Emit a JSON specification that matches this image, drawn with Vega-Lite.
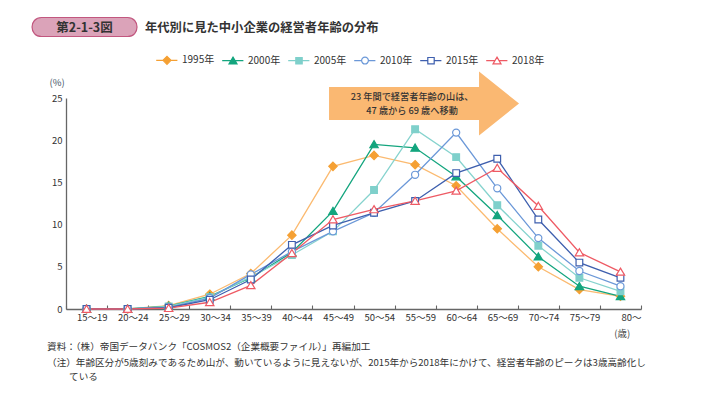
{
  "$schema": "https://vega.github.io/schema/vega-lite/v6.json",
  "width": 575,
  "height": 211,
  "autosize": {"type": "none"},
  "padding": {"left": 66, "top": 98, "right": 60, "bottom": 91},
  "background": "white",
  "config": {
    "view": {"stroke": null},
    "font": "Noto Sans CJK JP",
    "axis": {"grid": false, "labelFont": "Noto Sans CJK JP", "titleFont": "Noto Sans CJK JP"},
    "legend": {"labelFont": "Noto Sans CJK JP"},
    "text": {"font": "Noto Sans CJK JP"}
  },
  "data": {
    "values": [
      {"age": "15～19", "year": "1995年", "value": 0},
      {"age": "20～24", "year": "1995年", "value": 0},
      {"age": "25～29", "year": "1995年", "value": 0.4},
      {"age": "30～34", "year": "1995年", "value": 1.75},
      {"age": "35～39", "year": "1995年", "value": 4.2},
      {"age": "40～44", "year": "1995年", "value": 8.75},
      {"age": "45～49", "year": "1995年", "value": 16.9},
      {"age": "50～54", "year": "1995年", "value": 18.2},
      {"age": "55～59", "year": "1995年", "value": 17.1},
      {"age": "60～64", "year": "1995年", "value": 14.6},
      {"age": "65～69", "year": "1995年", "value": 9.5},
      {"age": "70～74", "year": "1995年", "value": 5.0},
      {"age": "75～79", "year": "1995年", "value": 2.3},
      {"age": "80～", "year": "1995年", "value": 1.5},
      {"age": "15～19", "year": "2000年", "value": 0},
      {"age": "20～24", "year": "2000年", "value": 0},
      {"age": "25～29", "year": "2000年", "value": 0.35},
      {"age": "30～34", "year": "2000年", "value": 1.5},
      {"age": "35～39", "year": "2000年", "value": 3.7},
      {"age": "40～44", "year": "2000年", "value": 6.7},
      {"age": "45～49", "year": "2000年", "value": 11.6},
      {"age": "50～54", "year": "2000年", "value": 19.5},
      {"age": "55～59", "year": "2000年", "value": 19.1},
      {"age": "60～64", "year": "2000年", "value": 15.7},
      {"age": "65～69", "year": "2000年", "value": 11.1},
      {"age": "70～74", "year": "2000年", "value": 6.2},
      {"age": "75～79", "year": "2000年", "value": 2.7},
      {"age": "80～", "year": "2000年", "value": 1.5},
      {"age": "15～19", "year": "2005年", "value": 0},
      {"age": "20～24", "year": "2005年", "value": 0},
      {"age": "25～29", "year": "2005年", "value": 0.3},
      {"age": "30～34", "year": "2005年", "value": 1.4},
      {"age": "35～39", "year": "2005年", "value": 3.8},
      {"age": "40～44", "year": "2005年", "value": 6.4},
      {"age": "45～49", "year": "2005年", "value": 9.2},
      {"age": "50～54", "year": "2005年", "value": 14.1},
      {"age": "55～59", "year": "2005年", "value": 21.3},
      {"age": "60～64", "year": "2005年", "value": 18.0},
      {"age": "65～69", "year": "2005年", "value": 12.3},
      {"age": "70～74", "year": "2005年", "value": 7.5},
      {"age": "75～79", "year": "2005年", "value": 3.7},
      {"age": "80～", "year": "2005年", "value": 2.1},
      {"age": "15～19", "year": "2010年", "value": 0},
      {"age": "20～24", "year": "2010年", "value": 0},
      {"age": "25～29", "year": "2010年", "value": 0.2},
      {"age": "30～34", "year": "2010年", "value": 1.3},
      {"age": "35～39", "year": "2010年", "value": 4.1},
      {"age": "40～44", "year": "2010年", "value": 6.8},
      {"age": "45～49", "year": "2010年", "value": 9.2},
      {"age": "50～54", "year": "2010年", "value": 11.4},
      {"age": "55～59", "year": "2010年", "value": 15.9},
      {"age": "60～64", "year": "2010年", "value": 20.9},
      {"age": "65～69", "year": "2010年", "value": 14.3},
      {"age": "70～74", "year": "2010年", "value": 8.4},
      {"age": "75～79", "year": "2010年", "value": 4.5},
      {"age": "80～", "year": "2010年", "value": 2.7},
      {"age": "15～19", "year": "2015年", "value": 0},
      {"age": "20～24", "year": "2015年", "value": 0},
      {"age": "25～29", "year": "2015年", "value": 0.15},
      {"age": "30～34", "year": "2015年", "value": 1.1},
      {"age": "35～39", "year": "2015年", "value": 3.5},
      {"age": "40～44", "year": "2015年", "value": 7.6},
      {"age": "45～49", "year": "2015年", "value": 9.9},
      {"age": "50～54", "year": "2015年", "value": 11.4},
      {"age": "55～59", "year": "2015年", "value": 12.8},
      {"age": "60～64", "year": "2015年", "value": 16.1},
      {"age": "65～69", "year": "2015年", "value": 17.8},
      {"age": "70～74", "year": "2015年", "value": 10.6},
      {"age": "75～79", "year": "2015年", "value": 5.5},
      {"age": "80～", "year": "2015年", "value": 3.7},
      {"age": "15～19", "year": "2018年", "value": 0},
      {"age": "20～24", "year": "2018年", "value": 0},
      {"age": "25～29", "year": "2018年", "value": 0.1},
      {"age": "30～34", "year": "2018年", "value": 0.8},
      {"age": "35～39", "year": "2018年", "value": 2.8},
      {"age": "40～44", "year": "2018年", "value": 6.6},
      {"age": "45～49", "year": "2018年", "value": 10.6},
      {"age": "50～54", "year": "2018年", "value": 11.8},
      {"age": "55～59", "year": "2018年", "value": 12.8},
      {"age": "60～64", "year": "2018年", "value": 14.0},
      {"age": "65～69", "year": "2018年", "value": 16.7},
      {"age": "70～74", "year": "2018年", "value": 12.2},
      {"age": "75～79", "year": "2018年", "value": 6.7},
      {"age": "80～", "year": "2018年", "value": 4.4}
    ]
  },
  "layer": [
    {
      "data": {"values": [{}]},
      "mark": {"type": "point", "shape": "M-0.906,-0.174L0.673,-0.174L0.673,-0.337L1.094,0L0.673,0.337L0.673,0.174L-0.906,0.174Z", "size": 36100, "filled": true, "fill": "#FAB872", "strokeWidth": 0, "opacity": 1},
      "encoding": {
        "x": {"datum": "55～59", "type": "ordinal", "bandPosition": 0.5},
        "y": {"datum": 24.35, "type": "quantitative"}
      }
    },
    {
      "data": {"values": [{}]},
      "mark": {"type": "text", "fontSize": 9.2, "fontWeight": 500, "align": "center", "baseline": "middle", "dx": -3, "fill": "#333333"},
      "encoding": {
        "x": {"datum": "55～59", "type": "ordinal", "bandPosition": 0.5},
        "y": {"datum": 25.12, "type": "quantitative"},
        "text": {"value": "23 年間で経営者年齢の山は、"}
      }
    },
    {
      "data": {"values": [{}]},
      "mark": {"type": "text", "fontSize": 9.2, "fontWeight": 500, "align": "center", "baseline": "middle", "dx": -3, "fill": "#333333"},
      "encoding": {
        "x": {"datum": "55～59", "type": "ordinal", "bandPosition": 0.5},
        "y": {"datum": 23.5, "type": "quantitative"},
        "text": {"value": "47 歳から 69 歳へ移動"}
      }
    },
    {
      "transform": [{"filter": "datum.age === '15～19'"}],
      "mark": {"type": "point", "size": 64, "strokeWidth": 1.2, "opacity": 0},
      "encoding": {
        "x": {"field": "age", "type": "ordinal", "bandPosition": 0.5},
        "y": {"field": "value", "type": "quantitative"},
        "shape": {
          "field": "year", "type": "nominal",
          "scale": {"domain": ["1995年", "2000年", "2005年", "2010年", "2015年", "2018年"], "range": [
            "M-2.7,0L-1,0M1,0L2.6,0M0,-1L1,0L0,1L-1,0Z",
            "M-2.7,0L-0.55,0M0.55,0L2.6,0M0,-0.9L1,0.8L-1,0.8Z",
            "M-2.7,0L-0.8,0M0.8,0L2.6,0M-0.8,-0.8L0.8,-0.8L0.8,0.8L-0.8,0.8Z",
            "M-2.7,0L-0.85,0M0.85,0L2.6,0M-0.85,0C-0.85,-0.47,-0.47,-0.85,0,-0.85C0.47,-0.85,0.85,-0.47,0.85,0C0.85,0.47,0.47,0.85,0,0.85C-0.47,0.85,-0.85,0.47,-0.85,0Z",
            "M-2.7,0L-0.8,0M0.8,0L2.6,0M-0.8,-0.8L0.8,-0.8L0.8,0.8L-0.8,0.8Z",
            "M-2.7,0L-0.55,0M0.55,0L2.6,0M0,-0.9L1,0.8L-1,0.8Z"]},
          "legend": {"orient": "none", "legendX": 96, "legendY": -43, "direction": "horizontal", "columns": 6, "title": null, "labelFontSize": 10, "labelColor": "#333333", "symbolSize": 64, "labelOffset": 10, "columnPadding": 4, "padding": 0, "symbolStrokeWidth": 1.2, "symbolOpacity": 1}
        },
        "fill": {
          "field": "year", "type": "nominal",
          "scale": {"domain": ["1995年", "2000年", "2005年", "2010年", "2015年", "2018年"], "range": ["#F5A033", "#13A57E", "#7FD0CB", "#FFFFFF", "#FFFFFF", "#FFFFFF"]},
          "legend": {"orient": "none", "legendX": 96, "legendY": -43, "direction": "horizontal", "columns": 6, "title": null, "labelFontSize": 10, "labelColor": "#333333", "symbolSize": 64, "labelOffset": 10, "columnPadding": 4, "padding": 0, "symbolStrokeWidth": 1.2, "symbolOpacity": 1}
        },
        "stroke": {
          "field": "year", "type": "nominal",
          "scale": {"domain": ["1995年", "2000年", "2005年", "2010年", "2015年", "2018年"], "range": ["#F5A033", "#13A57E", "#7FD0CB", "#6B98D8", "#3E5FAE", "#EE5A64"]},
          "legend": {"orient": "none", "legendX": 96, "legendY": -43, "direction": "horizontal", "columns": 6, "title": null, "labelFontSize": 10, "labelColor": "#333333", "symbolSize": 64, "labelOffset": 10, "columnPadding": 4, "padding": 0, "symbolStrokeWidth": 1.2, "symbolOpacity": 1}
        }
      }
    },
    {
      "mark": {"type": "line", "strokeWidth": 1.3},
      "encoding": {
        "x": {
          "field": "age", "type": "ordinal", "bandPosition": 0.5,
          "scale": {"type": "band", "domain": ["15～19", "20～24", "25～29", "30～34", "35～39", "40～44", "45～49", "50～54", "55～59", "60～64", "65～69", "70～74", "75～79", "80～"], "paddingInner": 0, "paddingOuter": 0},
          "axis": {
            "title": "(歳)", "titleX": 555.7, "titleY": 24.5, "titleAlign": "center", "titleBaseline": "middle",
            "titleFontSize": 9.5, "titleFontWeight": "normal", "titleColor": "#444444",
            "labelFontSize": 9.5, "labelColor": "#333333", "labelAngle": 0, "labelPadding": 12, "labelOffset": 20.5,
            "tickBand": "extent", "tickSize": -4, "tickColor": "#666666", "tickWidth": 1.1,
            "domainColor": "#666666", "domainWidth": 1.3
          }
        },
        "y": {
          "field": "value", "type": "quantitative",
          "scale": {"domain": [0, 25], "nice": false, "zero": true},
          "axis": {
            "title": "(%)", "titleAngle": 0, "titleX": -9.3, "titleY": -15.3, "titleAlign": "center", "titleBaseline": "middle",
            "titleFontSize": 9.5, "titleFontWeight": "normal", "titleColor": "#445566",
            "values": [0, 5, 10, 15, 20, 25], "ticks": false, "labelPadding": 4,
            "labelFontSize": 9.5, "labelColor": "#333333",
            "domainColor": "#666666", "domainWidth": 1.3
          }
        },
        "color": {
          "field": "year", "type": "nominal", "legend": null,
          "scale": {"domain": ["1995年", "2000年", "2005年", "2010年", "2015年", "2018年"], "range": ["#FBBA70", "#13A57E", "#86D3CE", "#6B98D8", "#3E5FAE", "#EE5A64"]}
        }
      }
    },
    {
      "transform": [{"filter": "datum.year === '1995年'"}],
      "mark": {"type": "point", "shape": "M0,-1L1,0L0,1L-1,0Z", "size": 70, "filled": true, "fill": "#F5A033", "stroke": "#F5A033", "strokeWidth": 1.2, "opacity": 1},
      "encoding": {"x": {"field": "age", "type": "ordinal", "bandPosition": 0.5}, "y": {"field": "value", "type": "quantitative"}}
    },
    {
      "transform": [{"filter": "datum.year === '2000年'"}],
      "mark": {"type": "point", "shape": "M0,-0.9L1,0.8L-1,0.8Z", "size": 70, "filled": true, "fill": "#13A57E", "stroke": "#13A57E", "strokeWidth": 1.2, "opacity": 1},
      "encoding": {"x": {"field": "age", "type": "ordinal", "bandPosition": 0.5}, "y": {"field": "value", "type": "quantitative"}}
    },
    {
      "transform": [{"filter": "datum.year === '2005年'"}],
      "mark": {"type": "point", "shape": "M-0.8,-0.8L0.8,-0.8L0.8,0.8L-0.8,0.8Z", "size": 70, "filled": true, "fill": "#7FD0CB", "stroke": "#7FD0CB", "strokeWidth": 1.2, "opacity": 1},
      "encoding": {"x": {"field": "age", "type": "ordinal", "bandPosition": 0.5}, "y": {"field": "value", "type": "quantitative"}}
    },
    {
      "transform": [{"filter": "datum.year === '2010年'"}],
      "mark": {"type": "point", "shape": "M-0.85,0C-0.85,-0.47,-0.47,-0.85,0,-0.85C0.47,-0.85,0.85,-0.47,0.85,0C0.85,0.47,0.47,0.85,0,0.85C-0.47,0.85,-0.85,0.47,-0.85,0Z", "size": 70, "filled": true, "fill": "#FFFFFF", "stroke": "#6B98D8", "strokeWidth": 1.2, "opacity": 1},
      "encoding": {"x": {"field": "age", "type": "ordinal", "bandPosition": 0.5}, "y": {"field": "value", "type": "quantitative"}}
    },
    {
      "transform": [{"filter": "datum.year === '2015年'"}],
      "mark": {"type": "point", "shape": "M-0.8,-0.8L0.8,-0.8L0.8,0.8L-0.8,0.8Z", "size": 70, "filled": true, "fill": "#FFFFFF", "stroke": "#3E5FAE", "strokeWidth": 1.2, "opacity": 1},
      "encoding": {"x": {"field": "age", "type": "ordinal", "bandPosition": 0.5}, "y": {"field": "value", "type": "quantitative"}}
    },
    {
      "transform": [{"filter": "datum.year === '2018年'"}],
      "mark": {"type": "point", "shape": "M0,-0.9L1,0.8L-1,0.8Z", "size": 70, "filled": true, "fill": "#FFFFFF", "stroke": "#EE5A64", "strokeWidth": 1.2, "opacity": 1},
      "encoding": {"x": {"field": "age", "type": "ordinal", "bandPosition": 0.5}, "y": {"field": "value", "type": "quantitative"}}
    },
    {
      "data": {"values": [{}]},
      "mark": {"type": "point", "shape": "M-0.857,-0.181L0.781,-0.181C1.022,-0.181,1.022,0.181,0.781,0.181L-0.857,0.181C-1.098,0.181,-1.098,-0.181,-0.857,-0.181Z", "size": 11025, "filled": true, "fill": "#DBA3B9", "stroke": "#C2577F", "strokeWidth": 1.2, "opacity": 1},
      "encoding": {
        "x": {"datum": "15～19", "type": "ordinal", "bandPosition": 0.5},
        "y": {"datum": 33.41, "type": "quantitative"}
      }
    },
    {
      "data": {"values": [{}]},
      "mark": {"type": "text", "fontSize": 12.5, "fontWeight": "bold", "align": "center", "baseline": "middle", "dx": -2, "fill": "#333333"},
      "encoding": {
        "x": {"datum": "15～19", "type": "ordinal", "bandPosition": 0.5},
        "y": {"datum": 33.3, "type": "quantitative"},
        "text": {"value": "第2-1-3図"}
      }
    },
    {
      "data": {"values": [{}]},
      "mark": {"type": "text", "fontSize": 12.3, "fontWeight": "bold", "align": "left", "baseline": "middle", "dx": 17.4, "fill": "#333333"},
      "encoding": {
        "x": {"datum": "20～24", "type": "ordinal", "bandPosition": 0.5},
        "y": {"datum": 33.3, "type": "quantitative"},
        "text": {"value": "年代別に見た中小企業の経営者年齢の分布"}
      }
    },
    {
      "data": {"values": [{}]},
      "mark": {"type": "text", "fontSize": 9.6, "align": "left", "baseline": "middle", "dx": -39.5, "fill": "#333333"},
      "encoding": {
        "x": {"datum": "15～19", "type": "ordinal", "bandPosition": 0.5},
        "y": {"datum": -4.56, "type": "quantitative"},
        "text": {"value": "資料：（株）帝国データバンク「COSMOS2（企業概要ファイル）」再編加工"}
      }
    },
    {
      "data": {"values": [{}]},
      "mark": {"type": "text", "fontSize": 9.6, "align": "left", "baseline": "middle", "dx": -39.5, "fill": "#333333"},
      "encoding": {
        "x": {"datum": "15～19", "type": "ordinal", "bandPosition": 0.5},
        "y": {"datum": -6.34, "type": "quantitative"},
        "text": {"value": "（注）年齢区分が5歳刻みであるため山が、動いているように見えないが、2015年から2018年にかけて、経営者年齢のピークは3歳高齢化し"}
      }
    },
    {
      "data": {"values": [{}]},
      "mark": {"type": "text", "fontSize": 9.6, "align": "left", "baseline": "middle", "dx": -17.5, "fill": "#333333"},
      "encoding": {
        "x": {"datum": "15～19", "type": "ordinal", "bandPosition": 0.5},
        "y": {"datum": -8.0, "type": "quantitative"},
        "text": {"value": "ている"}
      }
    }
  ]
}
